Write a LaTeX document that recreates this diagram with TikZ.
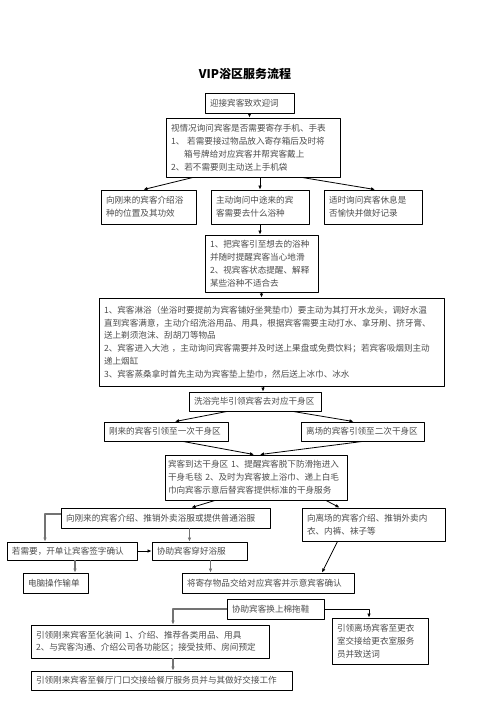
\documentclass[tikz,border=0pt]{standalone}
\usepackage{fontspec}
\setmainfont{Noto Sans CJK SC}
\usetikzlibrary{arrows.meta}

\begin{document}
\begin{tikzpicture}[x=1pt, y=-1pt, line join=round,
    box/.style={draw, line width=0.9pt, inner xsep=5pt, inner ysep=0pt, align=left,
      text=black!70, font=\fontsize{8.6}{12.8}\selectfont},
    arr/.style={-{Latex[length=4pt,width=3.6pt]}, line width=0.8pt},
    garr/.style={arr, draw=black!55, line width=1.6pt}]
    \useasboundingbox (0,0) rectangle (496,702);
    \node[font=\fontsize{12}{14}\selectfont\bfseries] (title) at (245,74) {VIP浴区服务流程};
    % upper part
    \node[box, text width=79pt, minimum height=20pt] (b1) at (249.5,103) {迎接宾客致欢迎词};
    \node[box, text width=164pt, minimum height=59pt] (b2) at (253,147.5)
      {视情况询问宾客是否需要寄存手机、手表\\1、 若需要接过物品放入寄存箱后及时将\\\hspace*{13pt}箱号牌给对应宾客并帮宾客戴上\\2、若不需要则主动送上手机袋};
    \node[box, text width=85pt, minimum height=34pt] (b3a) at (148.5,207) {向刚来的宾客介绍浴\\种的位置及其功效};
    \node[box, text width=88pt, minimum height=34pt] (b3b) at (260,207) {主动询问中途来的宾\\客需要去什么浴种};
    \node[box, text width=88pt, minimum height=34pt] (b3c) at (373,207) {适时询问宾客休息是\\否愉快并做好记录};
    \node[box, text width=103pt, minimum height=57pt] (b4) at (261.5,263.5)
      {1、把宾客引至想去的浴种\\并随时提醒宾客当心地滑\\2、视宾客状态提醒、解释\\某些浴种不适合去};
    \node[box, text width=335pt, minimum height=88pt] (b5) at (271.5,342)
      {1、宾客淋浴（坐浴时要提前为宾客铺好坐凳垫巾）要主动为其打开水龙头，调好水温\\
       直到宾客满意，主动介绍洗浴用品、用具，根据宾客需要主动打水、拿牙刷、挤牙膏、\\
       送上剃须泡沫、刮胡刀等物品\\
       2、宾客进入大池 ，主动询问宾客需要并及时送上果盘或免费饮料；若宾客吸烟则主动\\
       递上烟缸\\
       3、宾客蒸桑拿时首先主动为宾客垫上垫巾，然后送上冰巾、冰水};
    \node[box, text width=122pt, minimum height=19pt] (b6) at (255,401.5) {洗浴完毕引领宾客去对应干身区};
    \node[box, text width=114pt, minimum height=19pt] (b7a) at (166,431.5) {刚来的宾客引领至一次干身区};
    \node[box, text width=113pt, minimum height=19pt] (b7b) at (362.5,431.5) {离场的宾客引领至二次干身区};
    \node[box, inner xsep=3pt, text width=176pt, minimum height=45pt] (b8) at (256,477.5)
      {宾客到达干身区 1、提醒宾客脱下防滑拖进入\\干身毛毯 2、及时为宾客披上浴巾、递上白毛\\巾向宾客示意后替宾客提供标准的干身服务};
    % lower part
    \node[box, text width=199pt, minimum height=20pt] (b9a) at (165.5,518) {向刚来的宾客介绍、推销外卖浴服或提供普通浴服};
    \node[box, text width=133pt, minimum height=33pt] (b9b) at (373.5,524.5) {向离场的宾客介绍、推销外卖内\\衣、内裤、袜子等};
    \node[box, text width=120pt, minimum height=18pt] (b10a) at (72,551) {若需要，开单让宾客签字确认};
    \node[box, text width=85pt, minimum height=18pt] (b10b) at (199.5,551) {协助宾客穿好浴服};
    \node[box, text width=55pt, minimum height=20pt] (b11a) at (55.5,583) {电脑操作输单};
    \node[box, text width=162pt, minimum height=20pt] (b11b) at (268,583) {将寄存物品交给对应宾客并示意宾客确认};
    \node[box, text width=87pt, minimum height=20pt] (b12) at (275.5,609) {协助宾客换上棉拖鞋};
    \node[box, text width=228pt, minimum height=33pt] (b13a) at (150,641.5)
      {引领刚来宾客至化装间 1、介绍、推荐各类用品、用具\\2、与宾客沟通、介绍公司各功能区；接受技师、房间预定};
    \node[box, text width=86pt, minimum height=46pt] (b13b) at (380,641) {引领离场宾客至更衣\\室交接给更衣室服务\\员并致送词};
    \node[box, text width=251pt, minimum height=19pt] (b14) at (161.5,680.5) {引领刚来宾客至餐厅门口交接给餐厅服务员并与其做好交接工作};
    % connectors
    \coordinate (c1) at ([xshift=8pt]b6.north);
    \coordinate (c2) at ([xshift=24pt]b9a.south);
    \coordinate (c3) at ([xshift=3pt]b10a.south);
    \coordinate (c4) at ([xshift=11pt]b10b.south);
    \coordinate (c5) at ([xshift=23pt]b13a.south);
    \draw[arr] (b1.south) -- (b1.south |- b2.north);
    \draw[arr] ([xshift=-60pt]b2.south) -- ([xshift=-5pt]b3a.north);
    \draw[arr] (b3b.north |- b2.south) -- (b3b.north);
    \draw[arr] ([xshift=49pt]b2.south) -- ([xshift=2pt]b3c.north);
    \draw[arr] (b3b.south) -- (b3b.south |- b4.north);
    \draw[arr] (b4.south) -- (b4.south |- b5.north);
    \draw[arr] (c1 |- b5.south) -- (c1);
    \draw[arr] ([xshift=-28pt]b6.south) -- ([xshift=9pt]b7a.north);
    \draw[arr] ([xshift=38pt]b6.south) -- ([xshift=-9pt]b7b.north);
    \draw[arr] ([xshift=17pt]b7a.south) -- ([xshift=-2pt]b8.north);
    \draw[arr] (b7b.south) -- ([xshift=4pt]b8.north);
    \draw[arr] ([xshift=-41pt]b8.south) -- ([xshift=26pt]b9a.north);
    \draw[arr] ([xshift=70pt]b8.south) -- ([xshift=-34pt]b9b.north);
    \draw[garr] ([yshift=4pt]b9a.west) -| ([xshift=-27pt]b10a.north);
    \draw[garr] (c2) -- (c2 |- b10b.north);
    \draw[arr] (b10a.east) -- (b10b.west);
    \draw[garr] (c3) -- (c3 |- b11a.north);
    \draw[garr] (c4) -- (c4 |- b11b.north);
    \draw[arr] ([xshift=-36pt]b9b.south) -- ([xshift=54pt]b11b.north);
    \draw[garr] (b12.west) -| ([xshift=23pt]b13a.north);
    \draw[arr] (b12.east) -| ([xshift=-11pt]b13b.north);
    \draw[garr] (c5) -- (c5 |- b14.north);
\end{tikzpicture}
\end{document}
